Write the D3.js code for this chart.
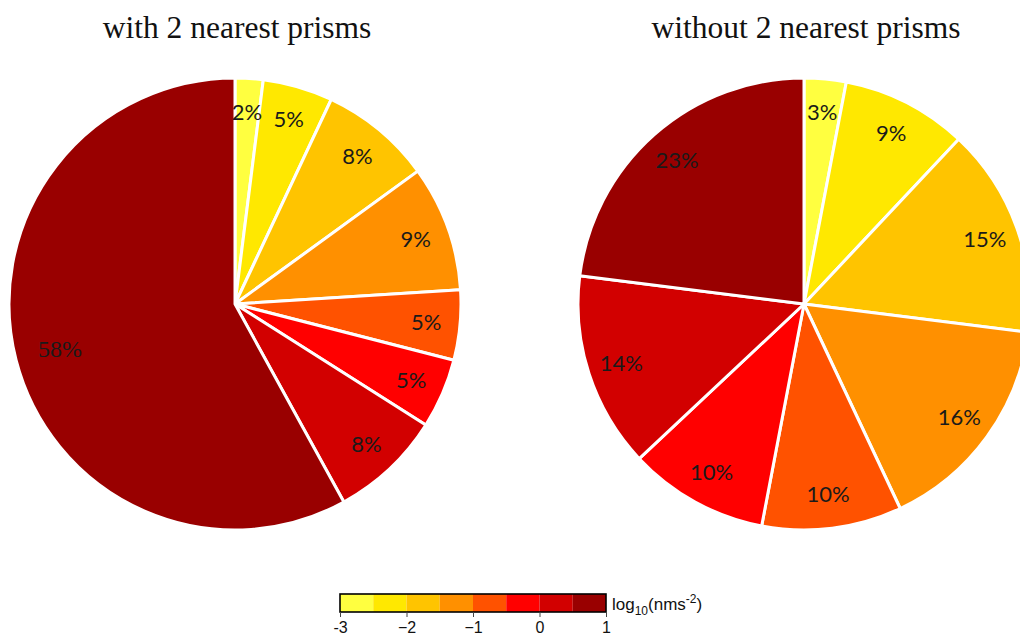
<!DOCTYPE html>
<html>
<head>
<meta charset="utf-8">
<script src="https://d3js.org/d3.v7.min.js"></script>
<style>
  html, body { margin: 0; padding: 0; background: #fff; }
  svg { display: block; }
</style>
</head>
<body>
<svg id="chart" width="1020" height="638"></svg>
<script>
// Share of each acceleration class (log10 nm s^-2 bins, -3 ... 1)
const binLabels = ["-3 to -2.5", "-2.5 to -2", "-2 to -1.5", "-1.5 to -1", "-1 to -0.5", "-0.5 to 0", "0 to 0.5", "0.5 to 1"];
const withPrisms = [2, 5, 8, 9, 5, 5, 8, 58];
const withoutPrisms = [3, 9, 15, 16, 10, 10, 14, 23];
const binColors = ["#FFFF40", "#FFE800", "#FFC400", "#FF9000", "#FF5200", "#FF0000", "#D20000", "#990000"];
const titles = ["with 2 nearest prisms", "without 2 nearest prisms"];
const legendTicks = [-3, -2, -1, 0, 1];

const svg = d3.select("#chart");
const radius = 226;

const pie = d3.pie().sort(null).value(d => d);
const arc = d3.arc().innerRadius(0).outerRadius(radius);
const labelArc = d3.arc().innerRadius(radius * 0.85).outerRadius(radius * 0.85);
const bigLabelArc = d3.arc().innerRadius(radius * 0.8).outerRadius(radius * 0.8);

function drawPie(values, cx, title) {
  const g = svg.append("g").attr("transform", `translate(${cx},304)`);
  const arcs = pie(values);
  g.selectAll("path.slice")
    .data(arcs)
    .join("path")
    .attr("class", "slice")
    .attr("d", arc)
    .attr("fill", (d, i) => binColors[i])
    .attr("stroke", "#fff")
    .attr("stroke-width", 3)
    .attr("stroke-linejoin", "round");

  g.selectAll("text.pct")
    .data(arcs)
    .join("text")
    .attr("class", "pct")
    .attr("transform", d => `translate(${(d.value > 50 ? bigLabelArc : labelArc).centroid(d)})`)
    .attr("text-anchor", "middle")
    .attr("dy", "0.35em")
    .style("font-family", d => d.value > 50 ? "'Liberation Serif', 'Times New Roman', serif" : "Lato, 'Open Sans', sans-serif")
    .attr("font-size", d => d.value > 50 ? 24 : 22)
    .attr("fill", "#1a1a1a")
    .text(d => d.value + "%");

  svg.append("text")
    .attr("x", cx + 2)
    .attr("y", 38)
    .attr("text-anchor", "middle")
    .attr("font-family", "'Liberation Serif', 'Times New Roman', serif")
    .attr("font-size", 31.5)
    .attr("fill", "#111")
    .text(title);
}

drawPie(withPrisms, 235, titles[0]);
drawPie(withoutPrisms, 804, titles[1]);

// Colour key
const x = d3.scaleLinear().domain([-3, 1]).range([340, 606]);
const step = (1 - (-3)) / binColors.length;
const key = svg.append("g");
key.selectAll("rect.bin")
  .data(binColors)
  .join("rect")
  .attr("class", "bin")
  .attr("x", (d, i) => x(-3 + i * step))
  .attr("y", 594)
  .attr("width", (d, i) => x(-3 + (i + 1) * step) - x(-3 + i * step))
  .attr("height", 18)
  .attr("fill", d => d);
key.append("rect")
  .attr("x", x(-3)).attr("y", 594)
  .attr("width", x(1) - x(-3)).attr("height", 18)
  .attr("fill", "none").attr("stroke", "#000").attr("stroke-width", 1.6);

const axis = d3.axisBottom(x)
  .tickValues(legendTicks)
  .tickSize(5)
  .tickFormat(d => d < 0 && d !== -3 ? "\u2212" + Math.abs(d) : (d === -3 ? "-3" : String(d)));
const axG = key.append("g").attr("transform", "translate(0,612)").call(axis);
axG.select(".domain").remove();
axG.selectAll("line").attr("stroke", "#444");
axG.selectAll("text")
  .attr("font-family", "'Liberation Sans', Arial, sans-serif")
  .attr("font-size", 16)
  .attr("fill", "#111")
  .attr("y", 21)
  .attr("dy", 0);

const unit = key.append("text")
  .attr("x", 612)
  .attr("y", 610)
  .attr("font-family", "'Liberation Sans', Arial, sans-serif")
  .attr("font-size", 17)
  .attr("fill", "#111");
unit.append("tspan").text("log");
unit.append("tspan").attr("font-size", 12).attr("dy", 5).text("10");
unit.append("tspan").attr("dy", -5).text("(nms");
unit.append("tspan").attr("font-size", 12).attr("dy", -7).text("-2");
unit.append("tspan").attr("dy", 7).text(")");
</script>
</body>
</html>
